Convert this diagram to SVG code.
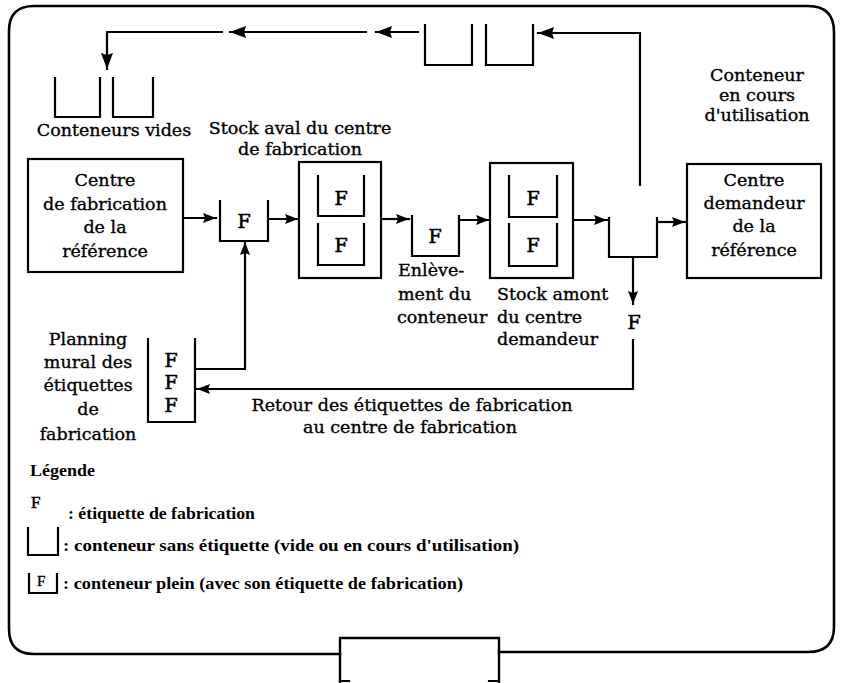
<svg xmlns="http://www.w3.org/2000/svg" width="841" height="683" viewBox="0 0 841 683">
<defs>
<marker id="ah" markerUnits="userSpaceOnUse" markerWidth="13" markerHeight="10" refX="13" refY="5" orient="auto">
<path d="M0,0 L13,5 L0,10 L2,5 z" fill="#000"/>
</marker>
<marker id="ahl" markerUnits="userSpaceOnUse" markerWidth="16" markerHeight="12" refX="16" refY="6" orient="auto">
<path d="M0,0 L16,6 L0,12 L2,6 z" fill="#000"/>
</marker>
<style>
.ln{fill:none;stroke:#000;stroke-width:2.2;stroke-linecap:square}
.bx{fill:#fff;stroke:#000;stroke-width:2.2}
.cn{fill:none;stroke:#000;stroke-width:2.2}
.t{font-family:"DejaVu Serif",serif;font-size:17.5px;fill:#000;stroke:#000;stroke-width:0.35}
.c{text-anchor:middle}
.f{font-family:"DejaVu Serif",serif;font-size:19px;fill:#000;stroke:#000;stroke-width:0.6;text-anchor:middle}
.lg{font-family:"Liberation Serif",serif;font-size:17px;font-weight:bold;fill:#000}
</style>
</defs>
<rect width="841" height="683" fill="#fff"/>
<g id="frame">
<path class="ln" style="stroke-width:2.6" d="M340 654 L34 654 Q9 654 9 629 L9 31 Q9 6 34 6 L808 6 Q834 6 834 32 L834 627 Q834 652 808 652 L499 652"/>
<path class="ln" style="stroke-width:2.4" d="M340 682 L340 638 L499 638 L499 682"/>
<path class="ln" d="M340 681 L349 681 M489 681 L499 681"/>
</g>
<g id="connectors">
<path class="ln" d="M640 185 L640 33 L538 33" marker-end="url(#ahl)"/>
<path class="ln" d="M418 32 L376 32" marker-end="url(#ahl)"/>
<path class="ln" d="M366 32 L230 32" marker-end="url(#ahl)"/>
<path class="ln" d="M222 32 L107 32 L107 69" marker-end="url(#ahl)"/>
<path class="ln" d="M184 218 L216 218" marker-end="url(#ah)"/>
<path class="ln" d="M269 219 L298 219" marker-end="url(#ah)"/>
<path class="ln" d="M382 219 L409 219" marker-end="url(#ah)"/>
<path class="ln" d="M460 220 L489 220" marker-end="url(#ah)"/>
<path class="ln" d="M574 220 L607 220" marker-end="url(#ah)"/>
<path class="ln" d="M658 222 L685 222" marker-end="url(#ah)"/>
<path class="ln" d="M633 258 L633 304" marker-end="url(#ah)"/>
<text class="f" x="634" y="329">F</text>
<path class="ln" d="M633 340 L633 389 L197 389" marker-end="url(#ah)"/>
<path class="ln" d="M196 369 L245 369 L245 242" marker-end="url(#ah)"/>
</g>
<g id="conteneurs-retour">
<path class="cn" d="M425 24 L425 65 L472 65 L472 24"/>
<path class="cn" d="M486 24 L486 65 L533 65 L533 24"/>
</g>
<g id="conteneurs-vides">
<path class="cn" d="M55 77 L55 117 L100 117 L100 77"/>
<path class="cn" d="M113 77 L113 117 L153 117 L153 77"/>
<text class="t c" x="114" y="136">Conteneurs vides</text>
</g>
<g id="conteneur-en-cours">
<text class="t c" x="757" y="81">Conteneur</text>
<text class="t c" x="757" y="101">en cours</text>
<text class="t c" x="757" y="121">d'utilisation</text>
</g>
<g id="centre-fabrication">
<rect class="bx" x="28" y="159" width="155" height="113"/>
<text class="t c" x="105" y="186">Centre</text>
<text class="t c" x="105" y="210">de fabrication</text>
<text class="t c" x="105" y="233">de la</text>
<text class="t c" x="105" y="257">référence</text>
</g>
<g id="poste-kanban">
<path class="cn" d="M220 200 L220 241 L268 241 L268 200"/>
<text class="f" x="244" y="228">F</text>
</g>
<g id="stock-aval">
<text class="t c" x="300" y="134">Stock aval du centre</text>
<text class="t c" x="300" y="155">de fabrication</text>
<rect class="bx" x="299" y="162" width="82" height="116"/>
<path class="cn" d="M318 175 L318 216 L364 216 L364 175"/>
<text class="f" x="341" y="205">F</text>
<path class="cn" d="M318 223 L318 265 L364 265 L364 223"/>
<text class="f" x="341" y="252">F</text>
</g>
<g id="enlevement">
<path class="cn" d="M412 215 L412 256 L459 256 L459 215"/>
<text class="f" x="435" y="243">F</text>
<text class="t" x="398" y="276">Enlève-</text>
<text class="t" x="398" y="300">ment du</text>
<text class="t" x="397" y="323">conteneur</text>
</g>
<g id="stock-amont">
<rect class="bx" x="490" y="163" width="83" height="115"/>
<path class="cn" d="M509 175 L509 217 L557 217 L557 175"/>
<text class="f" x="533" y="205">F</text>
<path class="cn" d="M509 223 L509 266 L557 266 L557 223"/>
<text class="f" x="533" y="252">F</text>
<text class="t" x="497" y="300">Stock amont</text>
<text class="t" x="497" y="323">du centre</text>
<text class="t" x="497" y="345">demandeur</text>
</g>
<g id="conteneur-utilisation">
<path class="cn" d="M609 217 L609 257 L657 257 L657 217"/>
</g>
<g id="centre-demandeur">
<rect class="bx" x="687" y="164" width="134" height="114"/>
<text class="t c" x="754" y="186">Centre</text>
<text class="t c" x="754" y="209">demandeur</text>
<text class="t c" x="754" y="232">de la</text>
<text class="t c" x="754" y="256">référence</text>
</g>
<g id="planning">
<text class="t c" x="88" y="345">Planning</text>
<text class="t c" x="88" y="368">mural des</text>
<text class="t c" x="88" y="391">étiquettes</text>
<text class="t c" x="88" y="415">de</text>
<text class="t c" x="88" y="440">fabrication</text>
<path class="cn" d="M148 338 L148 422 L195 422 L195 338"/>
<text class="f" x="171" y="367">F</text>
<text class="f" x="171" y="389">F</text>
<text class="f" x="171" y="412">F</text>
</g>
<g id="retour">
<text class="t c" x="412" y="411">Retour des étiquettes de fabrication</text>
<text class="t c" x="410" y="433">au centre de fabrication</text>
</g>
<g id="legende">
<text class="lg" x="30" y="476" textLength="65" lengthAdjust="spacingAndGlyphs">Légende</text>
<text class="lg" x="31" y="508" style="font-weight:normal;font-size:17px;stroke:#000;stroke-width:0.5">F</text>
<text class="lg" x="68" y="519" textLength="187" lengthAdjust="spacingAndGlyphs">: étiquette de fabrication</text>
<path class="cn" d="M28 527 L28 555 L58 555 L58 527"/>
<text class="lg" x="63" y="551" textLength="456" lengthAdjust="spacingAndGlyphs">: conteneur sans étiquette (vide ou en cours d'utilisation)</text>
<path class="cn" d="M29 573 L29 593 L57 593 L57 573"/>
<text class="lg" x="37" y="586" style="font-weight:normal;font-size:15px;stroke:#000;stroke-width:0.4">F</text>
<text class="lg" x="63" y="589" textLength="400" lengthAdjust="spacingAndGlyphs">: conteneur plein (avec son étiquette de fabrication)</text>
</g>
</svg>
